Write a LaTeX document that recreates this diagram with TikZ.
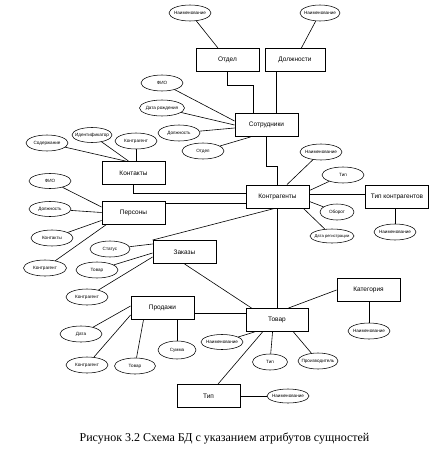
\documentclass[tikz,border=0pt]{standalone}
\usepackage{fontspec}
\setmainfont{Liberation Sans}
\newfontfamily\captionfont{Liberation Serif}
\usetikzlibrary{shapes,positioning,calc}

\begin{document}
\begin{tikzpicture}[x=1pt, y=-1pt,
    entity/.style={rectangle, draw, line width=0.9pt, minimum width=63pt, minimum height=23pt, inner sep=1pt, font=\fontsize{6.5}{7}\selectfont},
    attr/.style={ellipse, draw, line width=0.55pt, minimum width=42pt, minimum height=16pt, inner xsep=-6pt, inner ysep=0pt, font=\fontsize{4.6}{5}\selectfont},
    link/.style={line width=0.6pt}
]
\useasboundingbox (0,0) rectangle (444,460);

% Staff
\node[entity] (otdel) at (227.5,60) {Отдел};
\node[entity, minimum width=60pt] (dolzh) at (295,60) {Должности};
\node[entity] (sotr) at (266.5,125) {Сотрудники};
\node[attr] (naimotd) at (190,13) {Наименование};
\node[attr, minimum width=40pt] (naimdol) at (320,13) {Наименование};
\node[attr] (fio) at (162,83) {ФИО};
\node[attr, minimum width=45pt] (drozh) at (162,108) {Дата рождения};
\node[attr] (dolzhn) at (179,133) {Должность};
\node[attr] (otdelattr) at (203,151) {Отдел};

% Contacts and persons
\node[entity] (kontakty) at (133.5,173) {Контакты};
\node[attr] (soderzh) at (47,143) {Содержание};
\node[attr, minimum width=40pt, minimum height=15pt] (ident) at (92,135) {Идентификатор};
\node[attr] (kagentk) at (136,141) {Контрагент};
\node[entity] (persony) at (133.5,212.5) {Персоны};
\node[attr, minimum height=15pt] (fiop) at (50,181) {ФИО};
\node[attr, minimum height=15pt] (dolzhp) at (50,209) {Должность};
\node[attr] (kontaktyp) at (52,238) {Контакты};
\node[attr, minimum width=43pt] (kagentp) at (45,268) {Контрагент};

% Counterparties
\node[entity] (kontr) at (277.5,196.5) {Контрагенты};
\node[attr] (naimkontr) at (321,152) {Наименование};
\node[attr] (tipkontr) at (343,175) {Тип};
\node[attr, minimum width=34pt] (oborot) at (337,212) {Оборот};
\node[attr, minimum width=44pt, minimum height=14pt, font=\fontsize{4.2}{5}\selectfont] (dreg) at (332,236) {Дата регистрации};
\node[entity] (tipk) at (397,196.5) {Тип контрагентов};
\node[attr] (naimtipk) at (395,232) {Наименование};

% Orders
\node[entity] (zakazy) at (184.5,252) {Заказы};
\node[attr, minimum width=40pt] (status) at (110,249) {Статус};
\node[attr] (tovarz) at (97,270) {Товар};
\node[attr] (kagentz) at (87,297) {Контрагент};

% Sales
\node[entity] (prodazhi) at (162.5,307.5) {Продажи};
\node[attr] (data) at (81,334) {Дата};
\node[attr] (kagentpr) at (87,365) {Контрагент};
\node[attr, minimum width=41pt] (tovarpr) at (135,366) {Товар};
\node[attr, minimum width=38pt, minimum height=18pt] (summa) at (177,350) {Сумма};

% Goods
\node[entity, minimum width=62pt] (tovar) at (277,320) {Товар};
\node[attr, minimum height=15pt] (naimtov) at (222,342) {Наименование};
\node[attr, minimum width=35pt] (tiptov) at (270,362) {Тип};
\node[attr, minimum width=40pt] (proizv) at (318,361) {Производитель};
\node[entity] (kateg) at (368.5,290) {Категория};
\node[attr] (naimkat) at (369,331) {Наименование};
\node[entity] (tipt) at (208.5,396) {Тип};
\node[attr, minimum height=14pt] (naimtip) at (288,396) {Наименование};

% Links between entities
\draw[link] (otdel.south) -- ++(0,13) -| ([xshift=-13.5pt]sotr.north);
\draw[link] ([xshift=-19pt]dolzh.south) -- ([xshift=-19pt]dolzh.south |- sotr.north);
\draw[link] (sotr.south) -- ++(0,29) -| (kontr.north);
\draw[link] (kontakty.south) |- ([yshift=3.5pt]kontr.west);
\draw[link] ([yshift=-6.5pt]kontr.west) -- ([yshift=-6.5pt]kontr.west -| persony.east);
\draw[link] ([yshift=2pt]kontr.east) -- ([yshift=2pt]kontr.east -| tipk.west);
\draw[link] ([xshift=-3pt]kontr.south) -- (zakazy.north west);
\draw[link] (kontr.south) -- (kontr.south |- tovar.north);
\draw[link] (zakazy.south) -- ([xshift=6pt]tovar.north west);
\draw[link] ([yshift=-5.5pt]prodazhi.east) -- ([yshift=-5.5pt]prodazhi.east -| tovar.west);
\draw[link] ([xshift=-20pt]tovar.north east) -- (kateg.west);
\draw[link] ([xshift=17pt]tovar.south west) -- ([xshift=9.5pt]tipt.north);

% Attribute links
\draw[link] (naimotd) -- (otdel);
\draw[link] (naimdol) -- (dolzh);
\draw[link] (fio) -- ([yshift=4pt]sotr.west);
\draw[link] (drozh) -- (sotr.west);
\draw[link] (dolzhn) -- ([yshift=-3pt]sotr.west);
\draw[link] (otdelattr) -- ([xshift=16pt]sotr.south west);
\draw[link] (soderzh) -- ([xshift=-8pt]kontakty.north);
\draw[link] (ident) -- ([xshift=-5pt]kontakty.north);
\draw[link] (kagentk) -- (kagentk |- kontakty.north);
\draw[link] (fiop) -- ([yshift=5.5pt]persony.west);
\draw[link] (dolzhp) -- (persony.west);
\draw[link] (kontaktyp) -- ([yshift=4pt]persony.south west);
\draw[link] (kagentp) -- ([xshift=5pt]persony.south west);
\draw[link] (naimkontr) -- ([xshift=9.5pt]kontr.north);
\draw[link] (tipkontr) -- ([yshift=6pt]kontr.east);
\draw[link] (oborot) -- ([yshift=-5pt]kontr.east);
\draw[link] (dreg) -- ([xshift=-6pt]kontr.south east);
\draw[link] (naimtipk) -- (naimtipk |- tipk.south);
\draw[link] (status) -- ([yshift=8pt]zakazy.west);
\draw[link] (tovarz) -- ([yshift=-1pt]zakazy.west);
\draw[link] (kagentz) -- ([yshift=-5pt]zakazy.west);
\draw[link] (data) -- ([yshift=1.5pt]prodazhi.west);
\draw[link] (kagentpr) -- ([yshift=-7.5pt]prodazhi.west);
\draw[link] (tovarpr) -- ([xshift=13pt]prodazhi.south west);
\draw[link] (summa) -- (summa |- prodazhi.south);
\draw[link] (naimtov) -- ([xshift=9pt]tovar.south west);
\draw[link] (tiptov) -- ([xshift=27pt]tovar.south west);
\draw[link] (proizv) -- ([xshift=-15pt]tovar.south east);
\draw[link] (naimkat) -- (naimkat |- kateg.south);
\draw[link] (tipt) -- (naimtip);

% Caption
\node[font=\captionfont\fontsize{12}{14}\selectfont] (caption) at (224.5,438) {Рисунок 3.2 Схема БД с указанием атрибутов сущностей};

\end{tikzpicture}
\end{document}
